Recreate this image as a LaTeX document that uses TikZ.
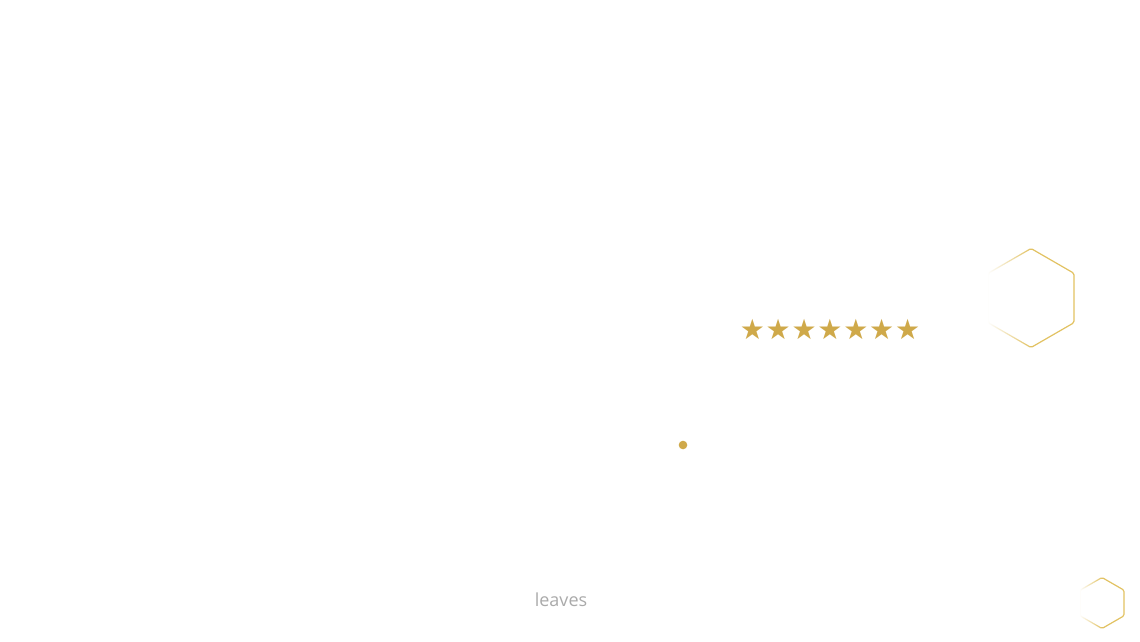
\documentclass[tikz,border=0pt]{standalone}
\usepackage{fontspec}
\setmainfont{Open Sans}
\newfontfamily\symfont{DejaVu Sans}
\usetikzlibrary{fadings}
\definecolor{gold}{HTML}{CFA94A}
\definecolor{hexgold}{HTML}{E2C262}
\definecolor{softgray}{HTML}{AAAAAA}
\tikzfading[name=hexfade, left color=transparent!100, right color=transparent!0,
  middle color=transparent!0]
\tikzset{
  hexline/.style={draw=hexgold, line width=1.2pt, rounded corners=1.5pt, path fading=hexfade},
  starrow/.style={text=gold, font=\symfont\fontsize{28}{28}\selectfont, inner sep=0pt},
  caption/.style={text=softgray, font=\fontsize{18}{18}\selectfont, inner sep=0pt}
}
\newcommand{\hexat}[2]{%
  \draw[hexline] (#1) +(90:#2) -- +(30:#2) -- +(-30:#2) -- +(-90:#2)
    -- +(-150:#2) -- +(150:#2) -- cycle;}
\begin{document}
\begin{tikzpicture}[x=1pt,y=-1pt]
  \useasboundingbox (0,0) rectangle (1140,641);
  \fill[white] (0,0) rectangle (1140,641);
  \coordinate (bighex) at (1031,298);
  \coordinate (smallhex) at (1102,603);
  \hexat{bighex}{49.5pt}
  \hexat{smallhex}{25.5pt}
  \node[starrow] (stars) at (830,329) {★\kern0.8pt★\kern0.8pt★\kern0.8pt★\kern0.8pt★\kern0.8pt★\kern0.8pt★};
  \fill[gold] (683,445) circle (4.3);
  \node[caption] (leaves) at (561,600) {leaves};
\end{tikzpicture}
\end{document}
